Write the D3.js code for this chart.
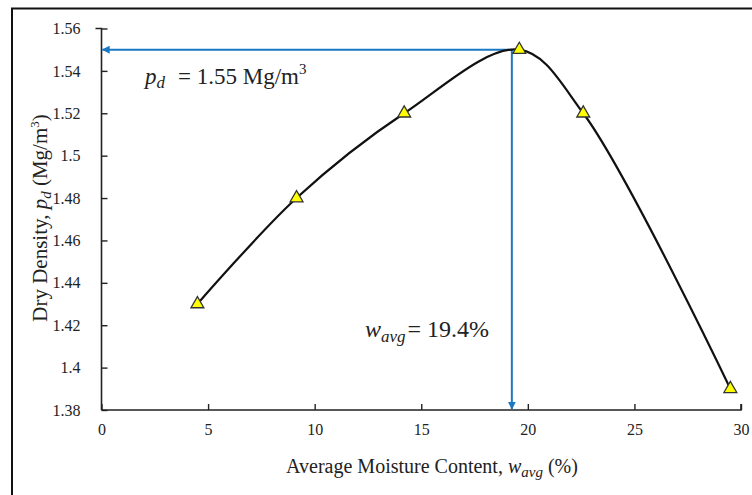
<!DOCTYPE html>
<html>
<head>
<meta charset="utf-8">
<script src="https://cdn.jsdelivr.net/npm/d3@7"></script>
<style>
  body { margin: 0; background: #fff; }
  svg text { font-family: "Liberation Serif", "Times New Roman", serif; fill: #222; }
</style>
</head>
<body>
<svg id="chart" width="752" height="495"></svg>
<script>
// measured points
const moisture = [4.5, 9.15, 14.2, 19.6, 22.6, 29.5];
const density = [1.43, 1.48, 1.52, 1.55, 1.52, 1.39];
const xTicks = [0, 5, 10, 15, 20, 25, 30];
const yTicks = [1.38, 1.4, 1.42, 1.44, 1.46, 1.48, 1.5, 1.52, 1.54, 1.56];
// optimum read-off lines
const optMoisture = 19.25;
const optDensity = 1.55;

const svg = d3.select("#chart");
const blue = "#1b78c2";
const serif = "Liberation Serif, Times New Roman, serif";

const x = d3.scaleLinear().domain([0, 30]).range([101.5, 741]);
const y = d3.scaleLinear().domain([1.38, 1.56]).range([410, 28.5]);

// frame (only left and top edges show)
svg.append("path")
    .attr("d", "M12,495 L12,8.5 L752,8.5")
    .attr("fill", "none")
    .attr("stroke", "#111")
    .attr("stroke-width", 2);

// arrow heads
svg.append("defs").append("marker")
    .attr("id", "arrow")
    .attr("viewBox", "0 0 10 10")
    .attr("refX", 9).attr("refY", 5)
    .attr("markerWidth", 8).attr("markerHeight", 8)
    .attr("markerUnits", "userSpaceOnUse")
    .attr("orient", "auto")
    .append("path")
    .attr("d", "M0,0 L10,5 L0,10 Z")
    .attr("fill", blue);

// axes
const xAxis = d3.axisBottom(x).tickValues(xTicks).tickSize(-6).tickPadding(14).tickFormat(d3.format("d"));
const yAxis = d3.axisLeft(y).tickValues(yTicks).tickSize(-6).tickPadding(21).tickFormat(d => String(+d.toFixed(2)));

const gx = svg.append("g").attr("transform", `translate(0,${y(1.38)})`).call(xAxis);
const gy = svg.append("g").attr("transform", `translate(${x(0)},0)`).call(yAxis);

[gx, gy].forEach(g => {
    g.attr("font-family", serif).attr("font-size", 16);
    g.select(".domain").attr("stroke", "#222").attr("stroke-width", 1.6);
    g.selectAll(".tick line").attr("stroke", "#222").attr("stroke-width", 1.4);
    g.selectAll(".tick text").attr("fill", "#333");
});
gy.select(".domain").attr("d", `M-6,${y(1.56)}H0V${y(1.38)}`);
gx.select(".domain").attr("d", `M${x(0)},0H${x(30)}V-6`);

// blue read-off lines
svg.append("line")
    .attr("x1", x(optMoisture)).attr("y1", y(optDensity))
    .attr("x2", x(0) + 1).attr("y2", y(optDensity))
    .attr("stroke", blue).attr("stroke-width", 2)
    .attr("marker-end", "url(#arrow)");
svg.append("line")
    .attr("x1", x(optMoisture)).attr("y1", y(optDensity))
    .attr("x2", x(optMoisture)).attr("y2", y(1.38) - 1)
    .attr("stroke", blue).attr("stroke-width", 2)
    .attr("marker-end", "url(#arrow)");

// smoothed curve
const pts = moisture.map((m, i) => [m, density[i]]);
const line = d3.line()
    .x(d => x(d[0]))
    .y(d => y(d[1]))
    .curve(d3.curveCatmullRom.alpha(0.5));

svg.append("path")
    .datum(pts)
    .attr("d", line)
    .attr("fill", "none")
    .attr("stroke", "#111")
    .attr("stroke-width", 2.2);

// triangle markers
svg.selectAll(".pt")
    .data(pts)
    .enter()
    .append("path")
    .attr("class", "pt")
    .attr("transform", d => `translate(${x(d[0])},${y(d[1])})`)
    .attr("d", d3.symbol().type(d3.symbolTriangle).size(72))
    .attr("fill", "#ffff00")
    .attr("stroke", "#333")
    .attr("stroke-width", 1.3);

// annotations
const a1 = svg.append("text").attr("x", 145).attr("y", 84).attr("font-size", 23);
a1.append("tspan").attr("font-style", "italic").text("p");
a1.append("tspan").attr("font-style", "italic").attr("font-size", 17).attr("dy", 4).text("d");
a1.append("tspan").attr("dy", -4).attr("dx", 13).text("= 1.55 Mg/m");
a1.append("tspan").attr("font-size", 15).attr("dy", -10).text("3");

const a2 = svg.append("text").attr("x", 365).attr("y", 337).attr("font-size", 24);
a2.append("tspan").attr("font-style", "italic").text("w");
a2.append("tspan").attr("font-style", "italic").attr("font-size", 17).attr("dy", 5).text("avg");
a2.append("tspan").attr("dy", -5).attr("dx", 2).text("= 19.4%");

// axis titles
const xt = svg.append("text")
    .attr("x", 432).attr("y", 473)
    .attr("text-anchor", "middle")
    .attr("font-size", 20);
xt.append("tspan").text("Average Moisture Content,  ");
xt.append("tspan").attr("font-style", "italic").text("w");
xt.append("tspan").attr("font-style", "italic").attr("font-size", 15).attr("dy", 4).text("avg");
xt.append("tspan").attr("dy", -4).text(" (%)");

const yt = svg.append("text")
    .attr("transform", "translate(47,218) rotate(-90)")
    .attr("text-anchor", "middle")
    .attr("font-size", 21);
yt.append("tspan").text("Dry Density, ");
yt.append("tspan").attr("font-style", "italic").text("p");
yt.append("tspan").attr("font-style", "italic").attr("font-size", 15).attr("dy", 4).text("d");
yt.append("tspan").attr("dy", -4).text(" (Mg/m");
yt.append("tspan").attr("font-size", 13).attr("dy", -8).text("3");
yt.append("tspan").attr("dy", 8).text(")");
</script>
</body>
</html>
